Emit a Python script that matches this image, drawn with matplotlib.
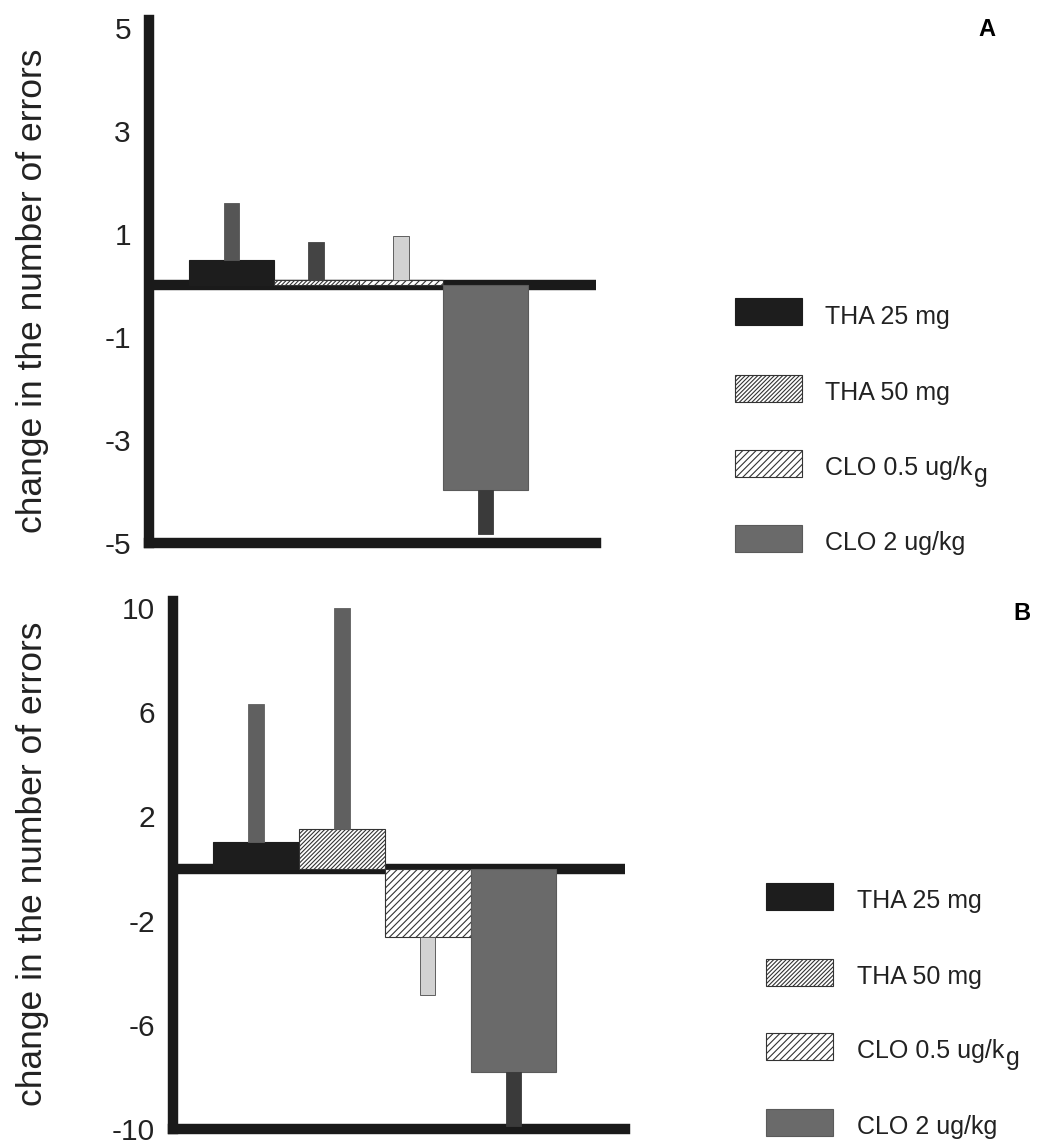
import matplotlib
matplotlib.use("Agg")
import matplotlib.pyplot as plt
from matplotlib.patches import Rectangle
import numpy as np

plt.rcParams['font.family'] = ['Liberation Sans', 'DejaVu Sans']
plt.rcParams['hatch.linewidth'] = 0.8

# ---------------- data ----------------
groups = ["THA 25 mg", "THA 50 mg", "CLO 0.5 ug/kg", "CLO 2 ug/kg"]
mean_A = [0.50, 0.10, 0.10, -3.97]
sem_A = [1.09, 0.75, 0.85, 0.85]
mean_B = [1.0, 1.5, -2.64, -7.8]
sem_B = [5.3, 8.5, 2.2, 2.1]
ticks_A = [5, 3, 1, -1, -3, -5]
ticks_B = [10, 6, 2, -2, -6, -10]
ylabel = "change in the number of errors"

# ---------------- styles ----------------
bar_face = ['#1d1d1d', 'white', 'white', '#6a6a6a']
bar_hatch = [None, '////////', '/////', None]
bar_edge = ['#1d1d1d', '#333333', '#333333', '#5a5a5a']
err_face = ['#555555', '#444444', '#d2d2d2', '#3a3a3a']
err_face_B = ['#606060', '#606060', '#d2d2d2', '#3a3a3a']

W, H = 1038, 1145
fig = plt.figure(figsize=(W / 100, H / 100), dpi=100)


def px_axes(left, top, right, bottom):
    return fig.add_axes([left / W, 1 - bottom / H, (right - left) / W, (bottom - top) / H])


def draw_panel(ax, means, sems, ticks, ylim, efaces):
    x = np.arange(len(means))
    ax.axhline(0, color='#1a1a1a', lw=7.5, zorder=1, solid_capstyle='butt')
    for i in range(len(means)):
        ax.bar(x[i], means[i], width=1.0, color=bar_face[i], hatch=bar_hatch[i],
               edgecolor=bar_edge[i], linewidth=0.8, zorder=2)
        d = np.sign(means[i])
        ax.bar(x[i], d * sems[i], bottom=means[i], width=0.18, color=efaces[i],
               edgecolor='#4a4a4a' if i == 2 else efaces[i], linewidth=0.6, zorder=3)
    ax.set_xlim(-0.97, 4.3)
    ax.set_ylim(*ylim)
    ax.set_yticks(ticks)
    ax.set_yticklabels([str(t) for t in ticks], fontsize=21.5, color='#222222')
    ax.set_xticks([])
    for s in ['top', 'right']:
        ax.spines[s].set_visible(False)
    for s in ['left', 'bottom']:
        ax.spines[s].set_linewidth(7.5)
        ax.spines[s].set_color('#1a1a1a')
        ax.spines[s].set_capstyle('projecting')
    ax.tick_params(axis='y', direction='in', length=3, width=3, pad=13, color='#1a1a1a')
    ax.patch.set_visible(False)


axA = px_axes(149, 20, 596, 543)
draw_panel(axA, mean_A, sem_A, ticks_A, (-5, 5.15), err_face)
axB = px_axes(173, 601, 625, 1129)
draw_panel(axB, mean_B, sem_B, ticks_B, (-10, 10.27), err_face_B)

# y labels
fig.text(33 / W, 1 - 291 / H, ylabel, rotation=90, ha='center', va='center',
         fontsize=25.5, color='#222222')
fig.text(33 / W, 1 - 864 / H, ylabel, rotation=90, ha='center', va='center',
         fontsize=25.5, color='#222222')

# panel letters
fig.text(987 / W, 1 - 29 / H, 'A', fontsize=17, fontweight='bold', ha='center', va='center')
fig.text(1022 / W, 1 - 613 / H, 'B', fontsize=17, fontweight='bold', ha='center', va='center')


def legend(x0, xtext, centers):
    for i, (name, cy) in enumerate(zip(groups, centers)):
        r = Rectangle((x0 / W, 1 - (cy + 13.5) / H), 67 / W, 27 / H, transform=fig.transFigure,
                      facecolor=bar_face[i], hatch=bar_hatch[i], edgecolor=bar_edge[i],
                      linewidth=0.8)
        fig.add_artist(r)
        if name.endswith('kg') and '0.5' in name:
            t = fig.text(xtext / W, 1 - (cy + 12) / H, name[:-1], fontsize=18,
                         ha='left', va='baseline', color='#222222')
            plt.annotate('g', xy=(1, 0), xycoords=t, xytext=(1, -5),
                         textcoords='offset points', fontsize=18, ha='left',
                         va='bottom', color='#222222', annotation_clip=False)
        else:
            fig.text(xtext / W, 1 - (cy + 12) / H, name, fontsize=18,
                     ha='left', va='baseline', color='#222222')


legend(735, 825, [312, 388, 463, 538])
legend(766, 857, [896, 972, 1046, 1122])

fig.savefig('out.png', dpi=100)
